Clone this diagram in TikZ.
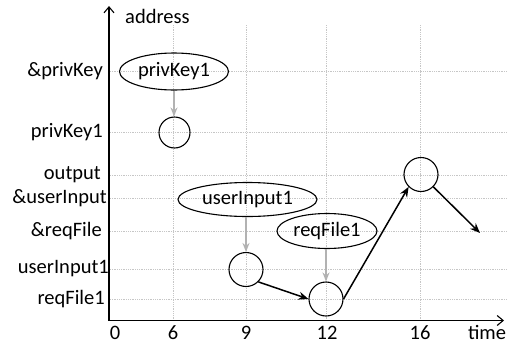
\documentclass[tikz,border=0pt]{standalone}
\usepackage{fontspec}
\setmainfont{Carlito}
\usetikzlibrary{arrows.meta,shapes.geometric}
\begin{document}
\begin{tikzpicture}[x=1pt,y=-1pt,
  every node/.style={font=\fontsize{20.5}{24}\selectfont},
  gridline/.style={draw=gray!45, densely dotted, line width=0.8pt},
  axisline/.style={line width=1.1pt, -{Straight Barb[length=6pt,width=10pt]}},
  cell/.style={circle, draw, line width=1.1pt, minimum size=34pt, inner sep=0pt},
  val/.style={ellipse, draw, line width=1.1pt, inner sep=0pt},
  flow/.style={line width=1.5pt, -{Stealth[length=10pt,width=8pt]}},
  load/.style={draw=gray!60, line width=2pt, -{Stealth[length=9pt,width=7pt]}},
  ylab/.style={anchor=east, inner sep=0pt},
  xlab/.style={anchor=base, inner sep=0pt}]
\useasboundingbox (0,0) rectangle (507,346);
% grid
\foreach \yy in {71,132.5,175,198,231,269,299}
  \draw[gridline] (110,\yy) -- (507,\yy);
\foreach \xx in {173,246,326,420}
  \draw[gridline] (\xx,25) -- (\xx,320);
% axes
\coordinate (o) at (109,320.5);
\coordinate (ytop) at (109,6);
\coordinate (xend) at (504,320.5);
\draw[axisline] (o) -- (ytop);
\draw[axisline] (o) -- (xend);
\node[anchor=base west, inner sep=0pt] (ylabel) at (125,23) {address};
% y labels
\node[ylab] (l1) at (103,71) {\&privKey};
\node[ylab] (l2) at (103,132.5) {privKey1};
\node[ylab] (l3) at (101,175) {output};
\node[ylab] (l4) at (107,198) {\&userInput};
\node[ylab] (l5) at (102,231) {\&reqFile};
\node[ylab] (l6) at (109,269) {userInput1};
\node[ylab] (l7) at (105,299) {reqFile1};
% x labels
\node[xlab] (t0) at (115,339) {0};
\node[xlab] (t6) at (173,339) {6};
\node[xlab] (t9) at (246,339) {9};
\node[xlab] (t12) at (327,339) {12};
\node[xlab] (t16) at (420,339) {16};
\node[xlab] (tt) at (487,339) {time};
% values
\node[val, minimum width=109pt, minimum height=37pt, label={center:privKey1}] (pk) at (174,71.5) {};
\node[val, minimum width=139pt, minimum height=34pt, label={center:userInput1}] (ui) at (247.5,199.5) {};
\node[val, minimum width=100pt, minimum height=35pt, label={center:reqFile1}] (rf) at (327,231) {};
% cells
\node[cell, minimum size=31pt] (pkc) at (174.5,132.5) {};
\node[cell] (uic) at (246,269.5) {};
\node[cell] (rfc) at (326,299) {};
\node[cell] (outc) at (421,174.5) {};
\coordinate (endp) at (480,233);
% loads
\draw[load] (pk.south) -- (pk.south |- pkc.north);
\draw[load] (ui.south -| uic.north) -- (uic.north);
\draw[load] (rf.south -| rfc.north) -- (rfc.north);
% flow
\draw[flow] (uic.south east) -- (rfc.west);
\draw[flow] (rfc.east) -- (outc.south west);
\draw[flow] (outc.south east) -- (endp);
\end{tikzpicture}
\end{document}
